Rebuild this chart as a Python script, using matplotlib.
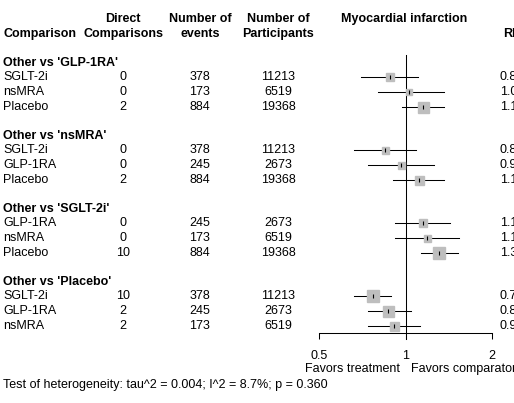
import matplotlib
matplotlib.use("Agg")
import matplotlib.pyplot as plt

plt.rcParams['font.family'] = ['Liberation Sans', 'DejaVu Sans']
plt.rcParams['font.size'] = 9

# comparison groups (reference treatment) and the rows in each
groups = ["GLP-1RA", "nsMRA", "SGLT-2i", "Placebo"]
treatments = [["SGLT-2i", "nsMRA", "Placebo"],
              ["SGLT-2i", "GLP-1RA", "Placebo"],
              ["GLP-1RA", "nsMRA", "Placebo"],
              ["SGLT-2i", "GLP-1RA", "nsMRA"]]
direct = [[0, 0, 2], [0, 0, 2], [0, 0, 10], [10, 2, 2]]
events = [[378, 173, 884], [378, 245, 884], [245, 173, 884], [378, 245, 173]]
participants = [[11213, 6519, 19368], [11213, 2673, 19368],
                [2673, 6519, 19368], [11213, 2673, 6519]]

# risk ratios with 95% CI
rr = [[0.88, 1.03, 1.15], [0.85, 0.96, 1.11], [1.15, 1.19, 1.31], [0.77, 0.87, 0.91]]
lower = [[0.70, 0.80, 0.97], [0.66, 0.74, 0.90], [0.92, 0.92, 1.13], [0.66, 0.74, 0.74]]
upper = [[1.10, 1.36, 1.36], [1.09, 1.26, 1.36], [1.43, 1.53, 1.52], [0.89, 1.04, 1.12]]
weight = [[8, 6, 11], [7, 7, 9], [8, 7, 12], [12, 11, 9]]

heterogeneity = "Test of heterogeneity: tau^2 = 0.004; I^2 = 8.7%; p = 0.360"

W, H = 514, 403
row0, rowh = 19, 14.6
ylim = ((H - row0) / rowh, -row0 / rowh)

fig = plt.figure(figsize=(W / 100, H / 100), dpi=100)

# text table on a pixel-wide axes, rows in row units
tab = fig.add_axes([0, 0, 1, 1])
tab.set_xlim(0, W)
tab.set_ylim(*ylim)
tab.axis('off')

# forest panel: log scale between 0.5 and 2
x05, x2 = 319.3, 492
ax = fig.add_axes([x05 / W, 0, (x2 - x05) / W, 1])
ax.set_xscale('log')
ax.set_xlim(0.5, 2)
ax.set_ylim(*ylim)
ax.patch.set_visible(False)

col_lab, col_dir, col_ev, col_par, col_rr = 3, 123, 200, 278, 512

bold = dict(fontweight='bold', va='center')
tab.text(col_dir, 0, "Direct", ha='center', **bold)
tab.text(col_dir, 1, "Comparisons", ha='center', **bold)
tab.text(col_lab, 1, "Comparison", ha='left', **bold)
tab.text(col_ev, 0, "Number of", ha='center', **bold)
tab.text(col_ev, 1, "events", ha='center', **bold)
tab.text(col_par, 0, "Number of", ha='center', **bold)
tab.text(col_par, 1, "Participants", ha='center', **bold)
tab.text(404, 0, "Myocardial infarction", ha='center', **bold)
tab.text(col_rr, 1, "RR", ha='center', **bold)

y = 3
for g in range(len(groups)):
    tab.text(col_lab, y, "Other vs '%s'" % groups[g], ha='left', **bold)
    for i in range(len(treatments[g])):
        y += 1
        tab.text(col_lab, y, treatments[g][i], ha='left', va='center')
        tab.text(col_dir, y, str(direct[g][i]), ha='center', va='center')
        tab.text(col_ev, y, str(events[g][i]), ha='center', va='center')
        tab.text(col_par, y, str(participants[g][i]), ha='center', va='center')
        tab.text(col_rr, y, "%.2f" % rr[g][i], ha='center', va='center')
        ax.plot([lower[g][i], upper[g][i]], [y, y], color='black', lw=0.75,
                clip_on=False, zorder=2)
        ax.plot(rr[g][i], y, marker='s', ms=weight[g][i] * 0.72, color='#bebebe',
                mec='#bebebe', clip_on=False, zorder=3)
        ax.plot(rr[g][i], y, marker='|', ms=2.5, mew=0.8, color='black',
                clip_on=False, zorder=4)
    y += 2

# reference line at 1 and the bracket-style axis
axis_y = 21.49
ax.plot([1, 1], [2.47, axis_y + 0.44], color='black', lw=0.75, clip_on=False)
for s in ['top', 'left', 'right']:
    ax.spines[s].set_visible(False)
ax.spines['bottom'].set_position(('data', axis_y))
ax.spines['bottom'].set_linewidth(0.75)
ax.spines['bottom'].set_bounds(0.5, 2)
ax.set_yticks([])
ax.set_xticks([0.5, 1, 2], labels=["0.5", "1", "2"])
ax.minorticks_off()
ax.tick_params(axis='x', direction='out', length=4.3, width=0.75, pad=8, labelsize=9)

tab.text(400, 24, "Favors treatment", ha='right', va='center')
tab.text(411, 24, "Favors comparator", ha='left', va='center')
tab.text(col_lab, 25.07, heterogeneity, ha='left', va='center')

fig.savefig("out.png", dpi=100)
